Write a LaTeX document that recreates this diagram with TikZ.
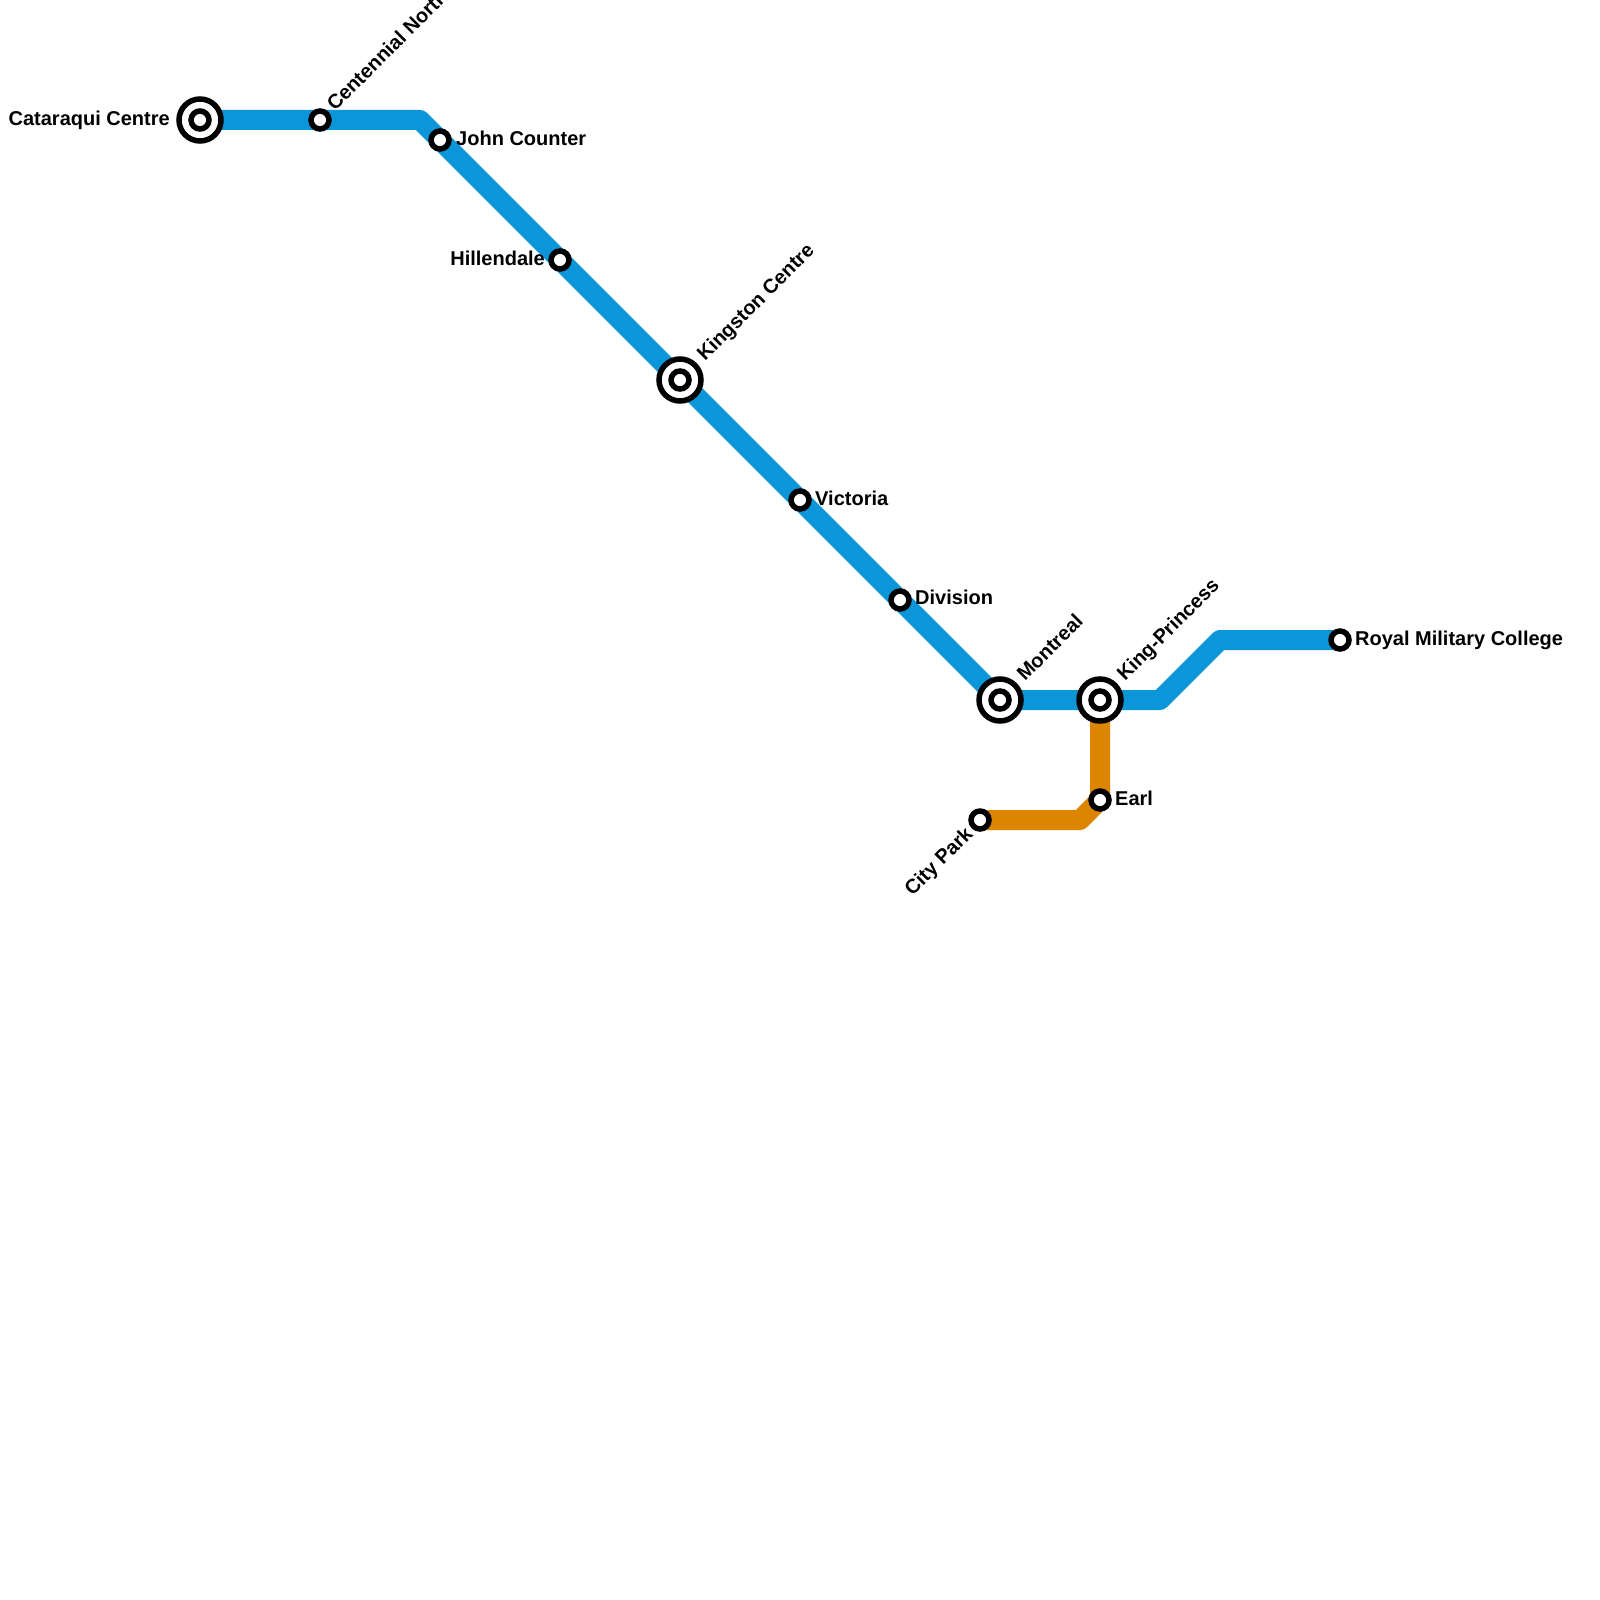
\documentclass[tikz,border=0pt]{standalone}
\usepackage{fontspec}
\setmainfont{Liberation Sans}
\definecolor{lineblue}{HTML}{0A96D9}
\definecolor{lineorange}{HTML}{DE8500}
\pgfdeclarelayer{under}
\pgfsetlayers{under,main}
\tikzset{
  x=1pt,y=-1pt,
  route/.style={line width=20pt,line join=round,line cap=butt},
  stop/.style={circle,draw=black,fill=white,line width=5.5pt,inner sep=0pt,outer sep=0pt,minimum size=18pt},
  hub/.style={circle,draw=black,fill=white,line width=5.5pt,inner sep=0pt,outer sep=0pt,minimum size=42pt},
  stntext/.style={font=\bfseries\fontsize{20}{22}\selectfont,inner sep=0pt,text=black},
  nameR/.style={stntext,anchor=base west},
  nameL/.style={stntext,anchor=base east},
  nameUp/.style={stntext,anchor=base west,rotate=45},
  nameDown/.style={stntext,anchor=base east,rotate=45},
}
\begin{document}
\begin{tikzpicture}
\useasboundingbox (0,0) rectangle (1600,1600);
\clip (0,0) rectangle (1600,1600);
% hubs
\node[hub] (cat) at (200,120) {};
\node[stop] (catI) at (200,120) {};
\node[hub] (kin) at (680,380) {};
\node[stop] (kinI) at (680,380) {};
\node[hub] (mon) at (1000,700) {};
\node[stop] (monI) at (1000,700) {};
\node[hub] (kp) at (1100,700) {};
\node[stop] (kpI) at (1100,700) {};
% stops
\node[stop] (cen) at (320,120) {};
\node[stop] (joh) at (440,140) {};
\node[stop] (hil) at (560,260) {};
\node[stop] (vic) at (800,500) {};
\node[stop] (div) at (900,600) {};
\node[stop] (rmc) at (1340,640) {};
\node[stop] (ear) at (1100,800) {};
\node[stop] (cit) at (980,820) {};
% bends
\coordinate (b1) at (420,120);
\coordinate (b2) at (1160,700);
\coordinate (b3) at (1220,640);
\coordinate (b4) at (1080,820);
\begin{pgfonlayer}{under}
\draw[route,lineorange] (kp.center) -- (ear.center) -- (b4) -- (cit.center);
\draw[route,lineblue] (cat.center) -- (cen.center) -- (b1) -- (joh.center) -- (hil.center) -- (kin.center) -- (vic.center) -- (div.center) -- (mon.center) -- (kp.center) -- (b2) -- (b3) -- (rmc.center);
\end{pgfonlayer}
% labels
\node[nameL] (catL) at (170,125) {Cataraqui Centre};
\node[nameUp] (cenL) at (335,112) {Centennial North};
\node[nameR] (johL) at (456,146) {John Counter};
\node[nameL] (hilL) at (545,265) {Hillendale};
\node[nameUp] (kinL) at (705,362) {Kingston Centre};
\node[nameR] (vicL) at (815,505) {Victoria};
\node[nameR] (divL) at (915,604.5) {Division};
\node[nameUp] (monL) at (1025,682) {Montreal};
\node[nameUp] (kpL) at (1125,682) {King-Princess};
\node[nameR] (rmcL) at (1355,645.5) {Royal Military College};
\node[nameR] (earL) at (1115,805) {Earl};
\node[nameDown] (citL) at (974,835) {City Park};
\end{tikzpicture}
\end{document}
